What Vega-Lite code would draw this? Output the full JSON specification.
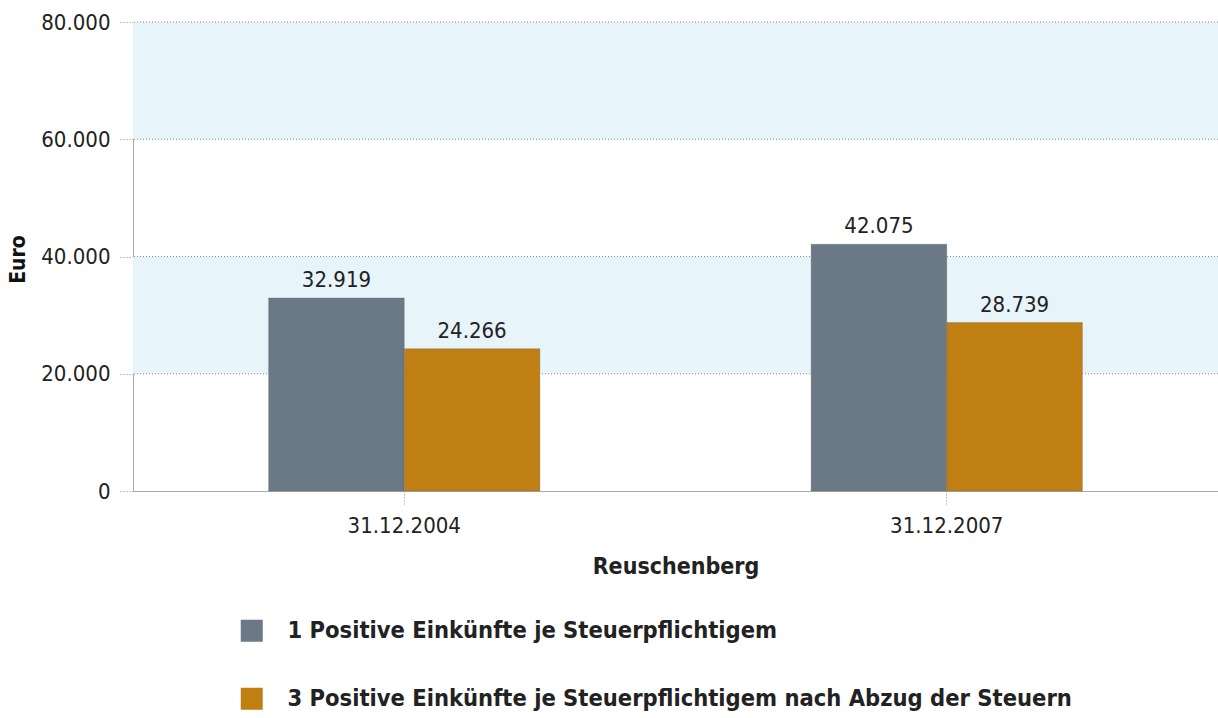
{
  "$schema": "https://vega.github.io/schema/vega-lite/v6.json",
  "width": 1085,
  "height": 469,
  "autosize": {"type": "none"},
  "padding": {"left": 133, "top": 22, "right": 0, "bottom": 227},
  "background": "white",
  "config": {
    "locale": {"number": {"decimal": ",", "thousands": ".", "grouping": [3], "currency": ["", " €"]}},
    "view": {"stroke": null},
    "font": "DejaVu Sans Condensed"
  },
  "datasets": {
    "bars": [
      {"date": "31.12.2004", "series": "1 Positive Einkünfte je Steuerpflichtigem", "value": 32919},
      {"date": "31.12.2004", "series": "3 Positive Einkünfte je Steuerpflichtigem nach Abzug der Steuern", "value": 24266},
      {"date": "31.12.2007", "series": "1 Positive Einkünfte je Steuerpflichtigem", "value": 42075},
      {"date": "31.12.2007", "series": "3 Positive Einkünfte je Steuerpflichtigem nach Abzug der Steuern", "value": 28739}
    ],
    "bands": [
      {"lo": 20000, "hi": 40000},
      {"lo": 60000, "hi": 80000}
    ],
    "grid": [
      {"v": 20000}, {"v": 40000}, {"v": 60000}, {"v": 80000}
    ]
  },
  "layer": [
    {
      "data": {"name": "bands"},
      "mark": {"type": "rect", "color": "#e7f4fa"},
      "encoding": {
        "y": {
          "field": "lo", "type": "quantitative", "scale": {"domain": [0, 80000]},
          "axis": {
            "title": "Euro", "titleFontSize": 21, "titleFontWeight": "bold", "titleColor": "#111",
            "titleX": -115, "titleY": 237, "titleAngle": 270, "titleBaseline": "middle", "titleAlign": "center",
            "values": [0, 20000, 40000, 60000, 80000], "format": ",.0f",
            "labelFontSize": 22, "labelColor": "#222", "labelPadding": 10,
            "tickSize": 13, "tickColor": "#888", "tickDash": [1, 2],
            "domainColor": "#aaa", "grid": false
          }
        },
        "y2": {"field": "hi"}
      }
    },
    {
      "data": {"name": "grid"},
      "mark": {"type": "rule", "color": "#888", "strokeDash": [1, 2], "strokeWidth": 1},
      "encoding": {
        "y": {"field": "v", "type": "quantitative"}
      }
    },
    {
      "data": {"name": "bars"},
      "layer": [
        {
          "mark": {"type": "bar", "stroke": "#5a5a5a", "strokeWidth": 0.6, "strokeOpacity": 0.5},
          "encoding": {
            "x": {
              "field": "date", "type": "nominal",
              "scale": {"paddingInner": 0.5, "paddingOuter": 0.25},
              "axis": {
                "title": "Reuschenberg", "titleFontSize": 23, "titleFontWeight": "bold", "titleColor": "#222",
                "titlePadding": 19,
                "labelAngle": 0, "labelFontSize": 22, "labelColor": "#222", "labelPadding": 10,
                "tickSize": 14, "tickColor": "#888", "tickDash": [1, 2],
                "domainColor": "#aaa", "grid": false
              }
            },
            "xOffset": {"field": "series", "type": "nominal", "scale": {"paddingInner": 0, "paddingOuter": 0}},
            "y": {"field": "value", "type": "quantitative"},
            "color": {
              "field": "series", "type": "nominal",
              "scale": {"range": ["#6b7987", "#bf7f12"]},
              "legend": {
                "title": null, "orient": "none", "legendX": 107, "legendY": 597,
                "direction": "vertical", "symbolType": "square", "symbolSize": 484,
                "symbolStrokeWidth": 0, "symbolOpacity": 1,
                "labelFontSize": 23.5, "labelFontWeight": "bold", "labelColor": "#222",
                "labelOffset": 24, "rowPadding": 43, "labelLimit": 900
              }
            }
          }
        },
        {
          "mark": {"type": "text", "baseline": "alphabetic", "dy": -11, "fontSize": 22, "color": "#222"},
          "encoding": {
            "x": {"field": "date", "type": "nominal"},
            "xOffset": {"field": "series", "type": "nominal"},
            "y": {"field": "value", "type": "quantitative"},
            "text": {"field": "value", "type": "quantitative", "format": ","}
          }
        }
      ]
    }
  ]
}
